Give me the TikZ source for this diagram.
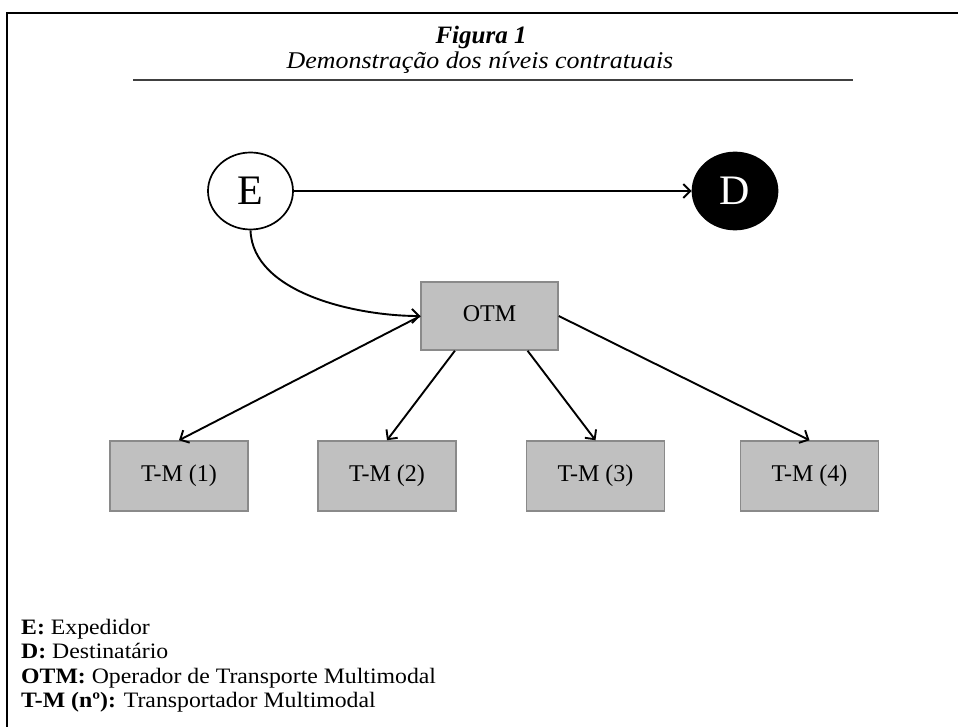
\documentclass[tikz,border=0pt]{standalone}
\usepackage{fontspec}
\setmainfont{Liberation Serif}
\newfontfamily\widefont{Liberation Serif}[FakeStretch=1.08]
\usetikzlibrary{arrows.meta,calc,shapes.geometric}
\definecolor{boxfill}{HTML}{C0C0C0}
\definecolor{boxline}{HTML}{8A8A8A}
\begin{document}
\begin{tikzpicture}[x=1pt,y=-1pt,
  party/.style={draw, ellipse, line width=1.7pt, minimum width=85pt, minimum height=77pt,
    inner sep=0pt, font=\fontsize{42}{46}\selectfont},
  box/.style={draw=boxline, fill=boxfill, line width=1.5pt, minimum width=138pt,
    minimum height=70pt, inner sep=0pt, text height=16pt, text depth=5pt,
    font=\fontsize{24}{28}\selectfont},
  link/.style={line width=1.9pt, -{Straight Barb[length=7pt,width=14pt,line width=1.9pt]}},
  legend/.style={anchor=base west, inner sep=0pt, font=\widefont\fontsize{22}{26}\selectfont}]
\useasboundingbox (0,0) rectangle (958,727);
\fill[white] (0,0) rectangle (958,727);

% frame (top and left edges)
\draw[line width=2pt] (7,727) -- (7,12.7) -- (958,12.7);

% heading
\node[anchor=base, inner sep=0pt, font=\fontsize{25}{30}\selectfont\bfseries\itshape] (fig) at (481,44) {Figura 1};
\node[anchor=base, inner sep=0pt, font=\widefont\fontsize{24}{28}\selectfont\itshape] (sub) at (480,69) {Demonstração dos níveis contratuais};
\draw[line width=1.4pt, black!75] (133,80) -- (853,80);

% parties
\node[party] (E) at (250.5,191) {E};
\node[party, fill=black, text=white] (D) at (735,191) {D};

% operator and carriers
\node[box, minimum width=137pt, minimum height=68pt] (OTM) at (489.5,316) {OTM};
\node[box] (T1) at (179,476) {T-M (1)};
\node[box] (T2) at (387,476) {T-M (2)};
\node[box] (T3) at (595.5,476) {T-M (3)};
\node[box] (T4) at (809.5,476) {T-M (4)};

% contractual links
\draw[link] (E) -- (D);
\draw[link] (E.south) to[out=-88, in=180, looseness=0.85] (OTM.west);
\draw[link] (OTM.west) -- (T1.north);
\draw[link] ($(OTM.south)!0.5!(OTM.south west)$) -- (T2.north);
\draw[link] ($(OTM.south)!0.55!(OTM.south east)$) -- (T3.north);
\draw[link] (OTM.east) -- (T4.north);

% legend
\node[legend] (l1) at (21,634) {\textbf{E:} Expedidor};
\node[legend] (l2) at (21,658.5) {\textbf{D:} Destinatário};
\node[legend] (l3) at (21,683) {\textbf{OTM:} Operador de Transporte Multimodal};
\node[legend] (l4) at (21,707.5) {\textbf{T-M (nº):} Transportador Multimodal};
\end{tikzpicture}
\end{document}
